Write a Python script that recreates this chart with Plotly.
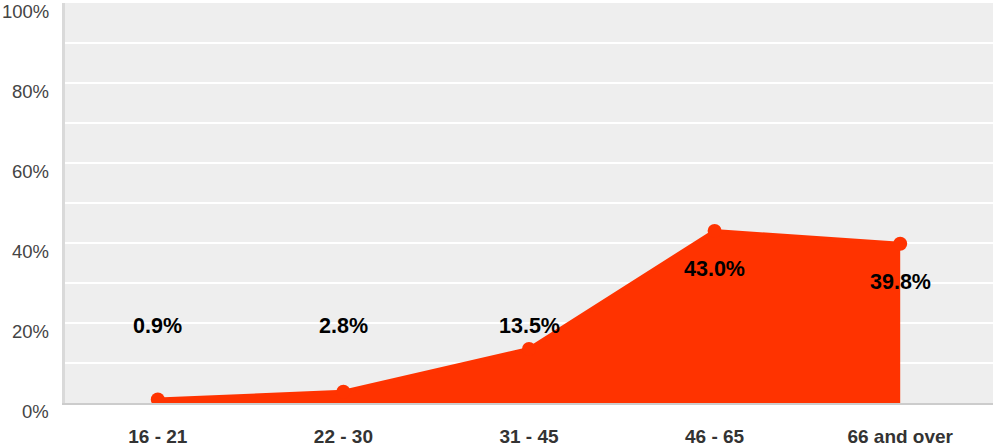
import plotly.graph_objects as go

categories = ["16 - 21", "22 - 30", "31 - 45", "46 - 65", "66 and over"]
values = [0.9, 2.8, 13.5, 43.0, 39.8]
y_tick_values = [0, 20, 40, 60, 80, 100]
y_tick_labels = ["0%", "20%", "40%", "60%", "80%", "100%"]

RED = "#ff3300"
FONT = "Liberation Sans, Arial, sans-serif"

fig = go.Figure()
fig.add_trace(go.Scatter(
    x=list(range(len(categories))), y=values,
    mode="lines+markers", fill="tozeroy",
    line=dict(color=RED, width=4),
    marker=dict(color=RED, size=14),
    fillcolor=RED, hoverinfo="skip", showlegend=False,
))

annotations = []
for i, v in enumerate(values):
    ly = max(v - 9.5, 19.3)
    annotations.append(dict(
        x=i, y=ly, xref="x", yref="y", text=f"{v:.1f}%", showarrow=False,
        font=dict(family=FONT, size=21.5, color="#000000", weight="bold"),
        xanchor="center", yanchor="middle",
    ))
for tv, tl in zip(y_tick_values, y_tick_labels):
    annotations.append(dict(
        x=0, y=tv, xref="paper", yref="y", text=tl, showarrow=False,
        font=dict(family=FONT, size=18.5, color="#444444"),
        xanchor="right", yanchor="middle", xshift=-14, yshift=-8,
    ))

fig.update_layout(
    width=994, height=448,
    margin=dict(l=65, r=1, t=3, b=45, autoexpand=False),
    paper_bgcolor="#ffffff", plot_bgcolor="#eeeeee",
    annotations=annotations,
    xaxis=dict(
        range=[-0.5, 4.5], tickmode="array",
        tickvals=list(range(len(categories))), ticktext=categories,
        tickfont=dict(family=FONT, size=19, color="#333333", weight="bold"),
        showgrid=False, zeroline=False, showline=True,
        linecolor="#cccccc", linewidth=2, ticks="", ticklabelstandoff=15,
        automargin=False, fixedrange=True,
    ),
    yaxis=dict(
        range=[0, 100], dtick=10, showticklabels=False,
        showgrid=True, gridcolor="#ffffff", gridwidth=2,
        zeroline=False, showline=True, linecolor="#d9d9d9", linewidth=3,
        ticks="", automargin=False, fixedrange=True,
    ),
)

fig.write_html(
    "out.html",
    config={"displayModeBar": False},
    post_script="document.body.style.margin='0';document.body.style.overflow='hidden';",
)
